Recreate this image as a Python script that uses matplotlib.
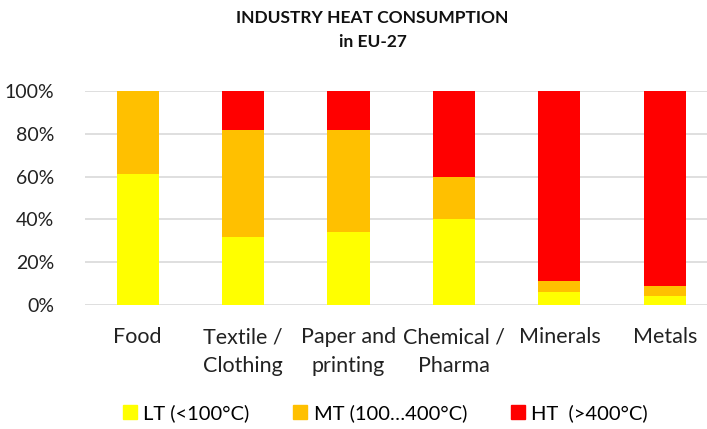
import matplotlib.pyplot as plt
from matplotlib.patches import Patch
from matplotlib.ticker import PercentFormatter

plt.rcParams['font.family'] = ['Lato', 'DejaVu Sans']

# data (shares of heat demand)
sectors = ['Food', 'Textile /\nClothing', 'Paper and\nprinting', 'Chemical /\nPharma', 'Minerals', 'Metals']
lt = [0.61, 0.32, 0.34, 0.40, 0.06, 0.04]
mt = [0.39, 0.50, 0.48, 0.20, 0.05, 0.05]
ht = [0.00, 0.18, 0.18, 0.40, 0.89, 0.91]
labels = ['LT (<100°C)', 'MT (100…400°C)', 'HT  (>400°C)']
colors = ['#FFFF00', '#FFC000', '#FF0000']

fig = plt.figure(figsize=(7.07, 4.29), dpi=100)
ax = fig.add_axes([85 / 707, 124 / 429, 622 / 707, 214 / 429])

x = range(len(sectors))
w = 0.4
ax.bar(x, lt, w, color=colors[0], zorder=2)
ax.bar(x, mt, w, bottom=lt, color=colors[1], zorder=2)
bottom2 = [a + b for a, b in zip(lt, mt)]
ax.bar(x, ht, w, bottom=bottom2, color=colors[2], zorder=2)

ax.set_xlim(-0.5, 5.4)
ax.set_ylim(0, 1)
ax.set_yticks([0, 0.2, 0.4, 0.6, 0.8, 1.0])
ax.yaxis.set_major_formatter(PercentFormatter(1.0, decimals=0))
ax.grid(axis='y', color='#d9d9d9', linewidth=1.2, zorder=0)
ax.set_axisbelow(True)
for s in ax.spines.values():
    s.set_visible(False)
ax.tick_params(axis='both', length=0, colors='#222222')
ax.tick_params(axis='y', pad=22, labelsize=14)
ax.tick_params(axis='x', pad=16, labelsize=15.5)
ax.set_xticks(list(x))
ax.set_xticklabels(sectors, linespacing=1.55)

fig.text(0.527, 0.958, 'INDUSTRY HEAT CONSUMPTION', ha='center', va='center',
         fontsize=12.5, fontweight='bold', color='#111111')
fig.text(0.527, 0.902, 'in EU-27', ha='center', va='center',
         fontsize=12.5, fontweight='bold', color='#111111')

handles = [Patch(color=c, label=l) for c, l in zip(colors, labels)]
fig.legend(handles=handles, loc='center', bbox_to_anchor=(0.545, 0.037), ncol=3,
           frameon=False, fontsize=14.5, handlelength=0.7, handleheight=0.7,
           handletextpad=0.3, columnspacing=2.2)

fig.savefig('out.png', dpi=100)
